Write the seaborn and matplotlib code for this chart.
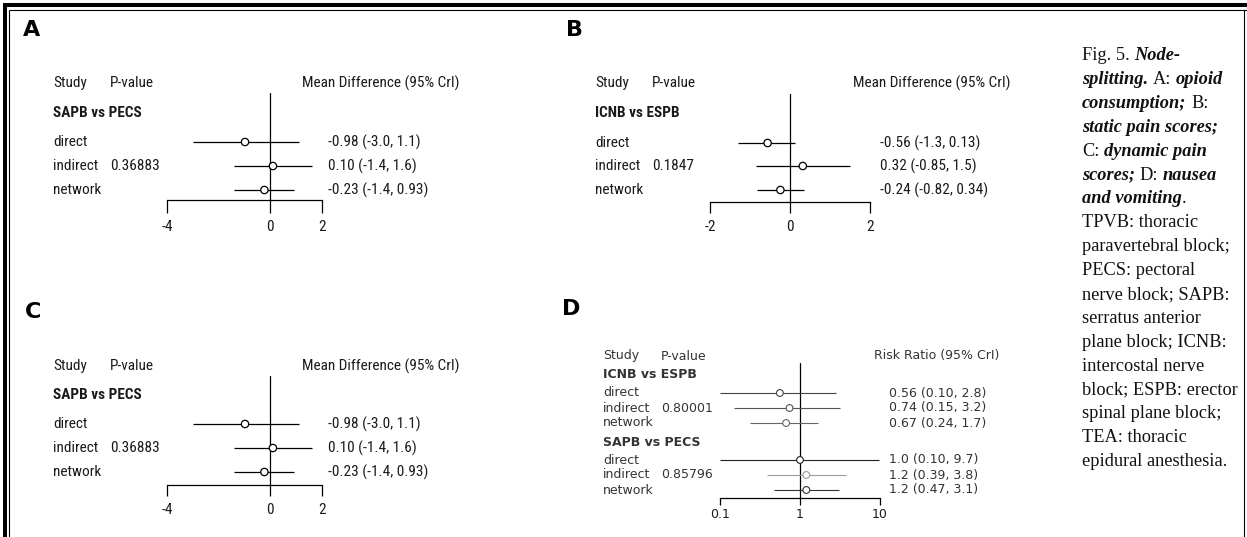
import matplotlib
matplotlib.use("Agg")
import matplotlib.pyplot as plt
from matplotlib.lines import Line2D
from matplotlib import transforms
from matplotlib import font_manager as fm
import pandas as pd
import seaborn as sns

# ---------------------------------------------------------------- data
row_names = ["direct", "indirect", "network"]

# A: opioid consumption (mean difference)
opioid_groups = ["SAPB vs PECS"]
opioid_p = ["0.36883"]
opioid_est = [[-0.98, 0.10, -0.23]]
opioid_lo = [[-3.0, -1.4, -1.4]]
opioid_hi = [[1.1, 1.6, 0.93]]

# B: static pain scores (mean difference)
static_groups = ["ICNB vs ESPB"]
static_p = ["0.1847"]
static_est = [[-0.56, 0.32, -0.24]]
static_lo = [[-1.3, -0.85, -0.82]]
static_hi = [[0.13, 1.5, 0.34]]

# C: dynamic pain scores (mean difference)
dynamic_groups = ["SAPB vs PECS"]
dynamic_p = ["0.36883"]
dynamic_est = [[-0.98, 0.10, -0.23]]
dynamic_lo = [[-3.0, -1.4, -1.4]]
dynamic_hi = [[1.1, 1.6, 0.93]]

# D: nausea and vomiting (risk ratio)
nausea_groups = ["ICNB vs ESPB", "SAPB vs PECS"]
nausea_p = ["0.80001", "0.85796"]
nausea_est = [[0.56, 0.74, 0.67], [1.0, 1.2, 1.2]]
nausea_lo = [[0.10, 0.15, 0.24], [0.10, 0.39, 0.47]]
nausea_hi = [[2.8, 3.2, 1.7], [9.7, 3.8, 3.1]]

md_ticks_a = [-4, 0, 2]
md_ticks_b = [-2, 0, 2]
rr_ticks = [0.1, 1, 10]
rr_tick_labels = ["0.1", "1", "10"]

caption_lines = [
    [("Fig. 5.", "r"), ("Node-", "i")],
    [("splitting.", "i"), ("A:", "r"), ("opioid", "i")],
    [("consumption;", "i"), ("B:", "r")],
    [("static pain scores;", "i")],
    [("C:", "r"), ("dynamic pain", "i")],
    [("scores;", "i"), ("D:", "r"), ("nausea", "i")],
    [("and vomiting", "i"), (".", "r+")],
    [("TPVB: thoracic", "r")],
    [("paravertebral block;", "r")],
    [("PECS: pectoral", "r")],
    [("nerve block; SAPB:", "r")],
    [("serratus anterior", "r")],
    [("plane block; ICNB:", "r")],
    [("intercostal nerve", "r")],
    [("block; ESPB: erector", "r")],
    [("spinal plane block;", "r")],
    [("TEA: thoracic", "r")],
    [("epidural anesthesia.", "r")],
]

# ---------------------------------------------------------------- setup
sns.set_theme(style="white")

# prefer a narrow sans for the forest-plot text when one is installed
installed = {f.name for f in fm.fontManager.ttflist}
SANS = "DejaVu Sans"
for cand in ["Liberation Sans Narrow", "Arial Narrow", "Roboto Condensed",
             "DejaVu Sans Condensed", "Open Sans Condensed",
             "Liberation Sans"]:
    if cand in installed:
        SANS = cand
        break
NARROW = [SANS, "DejaVu Sans"]
plt.rcParams["font.family"] = NARROW

W, H = 1247, 537
fig = plt.figure(figsize=(W / 100, H / 100), dpi=100)
fig.patch.set_facecolor("white")
renderer = fig.canvas.get_renderer()


def fx(x):
    return x / W


def fy(y):
    return 1 - y / H


def text_width(s, family, size, **kw):
    t = fig.text(0, 0, s, fontfamily=family, fontsize=size, **kw)
    w = t.get_window_extent(renderer).width
    t.remove()
    return w


def sig2(v):
    return format(v, "#.2g")


# size the panel text so the column header spans ~157 px
MD_FS = 10 * 157 / text_width("Mean Difference (95% CrI)", NARROW, 10)


def forest(lay, groups, pvals, est, lo, hi, log=False):
    ax = fig.add_axes([fx(lay["x0"]), fy(lay["axis_y"]),
                       (lay["x1"] - lay["x0"]) / W,
                       (lay["axis_y"] - lay["top"]) / H])
    ax.patch.set_alpha(0)
    if log:
        ax.set_xscale("log")

    recs = []
    for g, gname in enumerate(groups):
        for r, rname in enumerate(row_names):
            recs.append(dict(group=gname, row=rname,
                             est=est[g][r], lo=lo[g][r], hi=hi[g][r],
                             y=lay["rows_y"][g][r],
                             color=lay["colors"][g][r]))
    df = pd.DataFrame(recs)

    # reference line at the null effect
    null = 1 if log else 0
    ax.axvline(null, color="black", lw=0.9, zorder=1)

    # credible intervals
    ax.hlines(df["y"], df["lo"], df["hi"], colors=df["color"],
              lw=lay["lw"], zorder=2, clip_on=False)
    # point estimates
    sns.scatterplot(data=df, x="est", y="y", ax=ax, marker="o",
                    color="white", edgecolor=df["color"].tolist(),
                    linewidth=lay["lw"], s=lay["ms"], zorder=3,
                    legend=False, clip_on=False)

    ax.set_xlim(lay["xlim"])
    ax.set_ylim(lay["axis_y"], lay["top"])
    ax.set_xticks(lay["ticks"])
    ax.set_xticklabels(lay["ticklabels"], fontfamily=lay["family"],
                       fontsize=lay["fs"], color="#1a1a1a")
    ax.minorticks_off()
    ax.set_yticks([])
    ax.set_xlabel("")
    ax.set_ylabel("")
    for s in ["left", "right", "top"]:
        ax.spines[s].set_visible(False)
    ax.spines["bottom"].set_color("black")
    ax.spines["bottom"].set_linewidth(0.9)
    ax.tick_params(axis="x", direction="out", bottom=True,
                   length=lay["tick_len"] * 0.72, width=0.9,
                   color="black", pad=lay["pad"])

    # text columns: x in figure pixels, y in row positions
    tr = transforms.blended_transform_factory(fig.transFigure, ax.transData)
    kw = dict(transform=tr, fontfamily=lay["family"], fontsize=lay["fs"],
              va="center", ha="left", color=lay["tcolor"])
    fig.text(fx(lay["letter"][0]), fy(lay["letter"][1]), lay["name"],
             fontfamily="DejaVu Sans", fontweight="bold",
             fontsize=lay["letter_fs"], va="center", ha="left", color="black")
    ax.text(fx(lay["label_x"]), lay["study_y"], "Study", clip_on=False, **kw)
    ax.text(fx(lay["p_x"]), lay["study_y"], "P-value", clip_on=False, **kw)
    ax.text(fx(lay["head_x"]), lay["study_y"], lay["measure"],
            clip_on=False, **kw)
    for g, gname in enumerate(groups):
        ax.text(fx(lay["label_x"]), lay["group_y"][g], gname,
                fontweight="bold", clip_on=False, **kw)
        for r, rname in enumerate(row_names):
            yy = lay["rows_y"][g][r]
            ax.text(fx(lay["label_x"]), yy, rname, clip_on=False, **kw)
            if rname == "indirect":
                ax.text(fx(lay["p_x"]), yy, pvals[g], clip_on=False, **kw)
            ax.text(fx(lay["value_x"]), yy,
                    f"{sig2(est[g][r])} ({sig2(lo[g][r])}, {sig2(hi[g][r])})",
                    clip_on=False, **kw)
    return ax


black3 = [["black"] * 3]
base = dict(family=NARROW, fs=MD_FS, tcolor="#1a1a1a", lw=0.9, ms=28,
            letter_fs=16, measure="Mean Difference (95% CrI)")

lay_a = dict(base, name="A", letter=(23, 30), x0=167, x1=322, xlim=(-4, 2),
             ticks=md_ticks_a, ticklabels=[str(t) for t in md_ticks_a],
             top=93, axis_y=200, tick_len=13, pad=5,
             label_x=53, p_x=110, head_x=302, value_x=328,
             study_y=83, group_y=[113], rows_y=[[142, 166, 190]],
             colors=black3)

lay_b = dict(base, name="B", letter=(566, 30), x0=710, x1=870, xlim=(-2, 2),
             ticks=md_ticks_b, ticklabels=[str(t) for t in md_ticks_b],
             top=94, axis_y=202, tick_len=11, pad=5,
             label_x=595, p_x=652, head_x=853, value_x=880,
             study_y=83, group_y=[113], rows_y=[[143, 166, 190]],
             colors=black3)

lay_c = dict(base, name="C", letter=(25, 312), x0=167, x1=322, xlim=(-4, 2),
             ticks=md_ticks_a, ticklabels=[str(t) for t in md_ticks_a],
             top=376, axis_y=485, tick_len=11, pad=5,
             label_x=53, p_x=110, head_x=302, value_x=328,
             study_y=366, group_y=[395], rows_y=[[424, 448, 472]],
             colors=black3)

lay_d = dict(name="D", letter=(562, 309), x0=720, x1=880, xlim=(0.1, 10),
             ticks=rr_ticks, ticklabels=rr_tick_labels,
             family=["DejaVu Sans"], fs=9, tcolor="#333333", lw=0.8, ms=24,
             letter_fs=16, measure="Risk Ratio (95% CrI)",
             top=363, axis_y=498, tick_len=7, pad=2.5,
             label_x=603, p_x=661, head_x=874, value_x=889,
             study_y=356, group_y=[374, 442],
             rows_y=[[393, 408, 423], [460, 475, 490]],
             colors=[["#444444", "#555555", "#666666"],
                     ["#222222", "#9a9a9a", "#333333"]])

forest(lay_a, opioid_groups, opioid_p, opioid_est, opioid_lo, opioid_hi)
forest(lay_b, static_groups, static_p, static_est, static_lo, static_hi)
forest(lay_c, dynamic_groups, dynamic_p, dynamic_est, dynamic_lo, dynamic_hi)
forest(lay_d, nausea_groups, nausea_p, nausea_est, nausea_lo, nausea_hi,
       log=True)

# ---------------------------------------------------------------- frame
def frame_line(xs, ys, lw):
    fig.add_artist(Line2D([fx(x) for x in xs], [fy(y) for y in ys],
                          transform=fig.transFigure, color="black",
                          lw=lw, solid_capstyle="butt"))


frame_line([3, W], [5, 5], 2.9)
frame_line([5, 5], [3, H], 2.9)
frame_line([8.5, W], [9.5, 9.5], 0.8)
frame_line([8.5, 8.5], [9.5, H], 0.8)
frame_line([1243.5, 1243.5], [9.5, H], 0.8)

# ---------------------------------------------------------------- caption
SERIF = ["Liberation Serif", "DejaVu Serif"]
CAP_FS = 13.2

space_w = (text_width("a a", SERIF, CAP_FS)
           - text_width("aa", SERIF, CAP_FS))
style_kw = {"r": dict(), "r+": dict(),
            "i": dict(fontstyle="italic", fontweight="bold")}

cap_x, cap_y0, cap_dy = 1082, 60, 23.9
for i, runs in enumerate(caption_lines):
    x = cap_x
    y = cap_y0 + i * cap_dy
    for j, (s, st) in enumerate(runs):
        if j > 0 and st != "r+":
            x += space_w
        t = fig.text(fx(x), fy(y), s, fontfamily=SERIF, fontsize=CAP_FS,
                     va="baseline", ha="left", color="#111111",
                     **style_kw[st])
        x += t.get_window_extent(renderer).width

fig.savefig("out.png", dpi=100, facecolor="white")
